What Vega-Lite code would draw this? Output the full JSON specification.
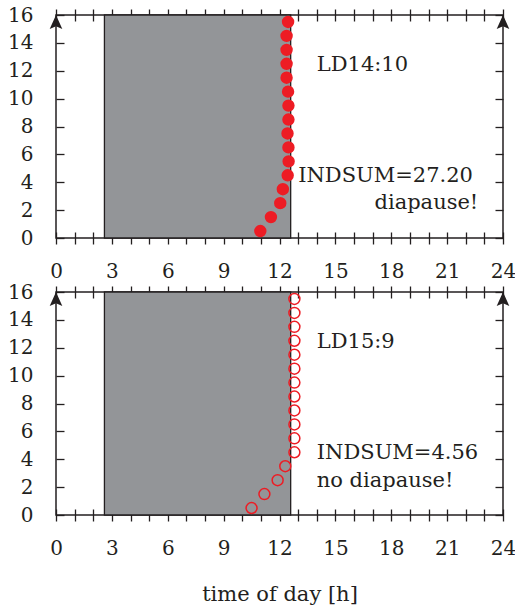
{
  "$schema": "https://vega.github.io/schema/vega-lite/v6.json",
  "padding": {"left": 6, "top": 4, "right": 0, "bottom": 5},
  "spacing": -1,
  "config": {
    "view": {"stroke": "#231f20", "strokeWidth": 1.5},
    "font": "DejaVu Serif",
    "text": {"font": "DejaVu Serif"},
    "axis": {"labelFont": "DejaVu Serif", "labelFontSize": 20, "labelColor": "#231f20", "tickColor": "#231f20", "tickWidth": 1.3, "titleFont": "DejaVu Serif", "titleFontSize": 21, "titleFontWeight": "normal", "titleColor": "#231f20", "grid": false, "domain": false, "labelFlush": false, "labelOverlap": false}
  },
  "datasets": {
    "shade": [
      {"panel": "A", "start": 2.6, "end": 12.6, "lo": 0, "hi": 16},
      {"panel": "B", "start": 2.6, "end": 12.6, "lo": 0, "hi": 16}
    ],
    "pts": [
      {"panel": "A", "t": 10.97, "n": 0.5}, {"panel": "A", "t": 11.54, "n": 1.5}, {"panel": "A", "t": 12.04, "n": 2.5}, {"panel": "A", "t": 12.18, "n": 3.5},
      {"panel": "A", "t": 12.44, "n": 4.5}, {"panel": "A", "t": 12.49, "n": 5.5}, {"panel": "A", "t": 12.48, "n": 6.5}, {"panel": "A", "t": 12.43, "n": 7.5},
      {"panel": "A", "t": 12.48, "n": 8.5}, {"panel": "A", "t": 12.48, "n": 9.5}, {"panel": "A", "t": 12.46, "n": 10.5}, {"panel": "A", "t": 12.38, "n": 11.5},
      {"panel": "A", "t": 12.38, "n": 12.5}, {"panel": "A", "t": 12.38, "n": 13.5}, {"panel": "A", "t": 12.38, "n": 14.5}, {"panel": "A", "t": 12.46, "n": 15.5},
      {"panel": "B", "t": 10.5, "n": 0.5}, {"panel": "B", "t": 11.19, "n": 1.5}, {"panel": "B", "t": 11.9, "n": 2.5}, {"panel": "B", "t": 12.31, "n": 3.5},
      {"panel": "B", "t": 12.8, "n": 4.5}, {"panel": "B", "t": 12.8, "n": 5.5}, {"panel": "B", "t": 12.8, "n": 6.5}, {"panel": "B", "t": 12.8, "n": 7.5},
      {"panel": "B", "t": 12.8, "n": 8.5}, {"panel": "B", "t": 12.8, "n": 9.5}, {"panel": "B", "t": 12.8, "n": 10.5}, {"panel": "B", "t": 12.8, "n": 11.5},
      {"panel": "B", "t": 12.8, "n": 12.5}, {"panel": "B", "t": 12.8, "n": 13.5}, {"panel": "B", "t": 12.8, "n": 14.5}, {"panel": "B", "t": 12.8, "n": 15.5}
    ],
    "arrows": [{"x": 0, "y": 16}, {"x": 24, "y": 16}],
    "notes": [
      {"panel": "A", "x": 14, "y": 12, "text": "LD14:10"},
      {"panel": "A", "x": 13, "y": 4, "text": "INDSUM=27.20"},
      {"panel": "A", "x": 17.1, "y": 2.1, "text": "diapause!"},
      {"panel": "B", "x": 14, "y": 12, "text": "LD15:9"},
      {"panel": "B", "x": 14, "y": 4, "text": "INDSUM=4.56"},
      {"panel": "B", "x": 14, "y": 2, "text": "no diapause!"}
    ]
  },
  "vconcat": [
    {
      "width": 447, "height": 223,
      "resolve": {"axis": {"x": "independent", "y": "independent"}},
      "layer": [
        {
          "data": {"name": "shade"},
          "transform": [{"filter": "datum.panel == 'A'"}],
          "mark": {"type": "rect", "fill": "#939598", "stroke": "#231f20", "strokeWidth": 1.3},
          "encoding": {
            "x": {"field": "start", "type": "quantitative", "scale": {"domain": [0, 24], "nice": false, "zero": false},
                  "axis": {"orient": "bottom", "values": [0,1,2,3,4,5,6,7,8,9,10,11,12,13,14,15,16,17,18,19,20,21,22,23,24], "labelExpr": "datum.value % 3 == 0 ? datum.label : ''", "offset": -6, "tickSize": 12, "labelPadding": 17, "title": null}},
            "x2": {"field": "end"},
            "y": {"field": "lo", "type": "quantitative", "scale": {"domain": [0, 16], "nice": false},
                  "axis": {"orient": "left", "values": [0,2,4,6,8,10,12,14,16], "offset": -8, "tickSize": 8, "labelPadding": 23, "title": null}},
            "y2": {"field": "hi"}
          }
        },
        {
          "data": {"name": "pts"},
          "transform": [{"filter": "datum.panel == 'A'"}],
          "mark": {"type": "point", "shape": "circle", "filled": true, "color": "#ed1c24", "opacity": 1, "size": 154},
          "encoding": {
            "x": {"field": "t", "type": "quantitative", "axis": null},
            "y": {"field": "n", "type": "quantitative", "axis": null}
          }
        },
        {
          "data": {"name": "notes"},
          "transform": [{"filter": "datum.panel == 'A'"}],
          "mark": {"type": "text", "align": "left", "baseline": "alphabetic", "fontSize": 21, "font": "DejaVu Serif", "color": "#231f20"},
          "encoding": {
            "x": {"field": "x", "type": "quantitative", "axis": null},
            "y": {"field": "y", "type": "quantitative", "axis": null},
            "text": {"field": "text"}
          }
        },
        {
          "data": {"name": "arrows"},
          "mark": {"type": "point", "shape": "M0,0L0.9,2L0,1.6L-0.9,2Z", "filled": true, "color": "#231f20", "opacity": 1, "size": 196},
          "encoding": {
            "x": {"field": "x", "type": "quantitative",
                  "axis": {"orient": "top", "values": [0,1,2,3,4,5,6,7,8,9,10,11,12,13,14,15,16,17,18,19,20,21,22,23,24], "labels": false, "offset": -6, "tickSize": 12, "title": null}},
            "y": {"field": "y", "type": "quantitative",
                  "axis": {"orient": "right", "values": [0,2,4,6,8,10,12,14,16], "labels": false, "offset": -8, "tickSize": 8, "title": null}}
          }
        }
      ]
    },
    {
      "width": 447, "height": 223,
      "resolve": {"axis": {"x": "independent", "y": "independent"}},
      "layer": [
        {
          "data": {"name": "shade"},
          "transform": [{"filter": "datum.panel == 'B'"}],
          "mark": {"type": "rect", "fill": "#939598", "stroke": "#231f20", "strokeWidth": 1.3},
          "encoding": {
            "x": {"field": "start", "type": "quantitative", "scale": {"domain": [0, 24], "nice": false, "zero": false},
                  "axis": {"orient": "bottom", "values": [0,1,2,3,4,5,6,7,8,9,10,11,12,13,14,15,16,17,18,19,20,21,22,23,24], "labelExpr": "datum.value % 3 == 0 ? datum.label : ''", "offset": -6, "tickSize": 12, "labelPadding": 17, "title": "time of day [h]", "titlePadding": 25}},
            "x2": {"field": "end"},
            "y": {"field": "lo", "type": "quantitative", "scale": {"domain": [0, 16], "nice": false},
                  "axis": {"orient": "left", "values": [0,2,4,6,8,10,12,14,16], "offset": -8, "tickSize": 8, "labelPadding": 23, "title": null}},
            "y2": {"field": "hi"}
          }
        },
        {
          "data": {"name": "pts"},
          "transform": [{"filter": "datum.panel == 'B'"}],
          "mark": {"type": "point", "shape": "circle", "filled": false, "color": "#ed1c24", "opacity": 1, "strokeWidth": 1.5, "size": 120},
          "encoding": {
            "x": {"field": "t", "type": "quantitative", "axis": null},
            "y": {"field": "n", "type": "quantitative", "axis": null}
          }
        },
        {
          "data": {"name": "notes"},
          "transform": [{"filter": "datum.panel == 'B'"}],
          "mark": {"type": "text", "align": "left", "baseline": "alphabetic", "fontSize": 21, "font": "DejaVu Serif", "color": "#231f20"},
          "encoding": {
            "x": {"field": "x", "type": "quantitative", "axis": null},
            "y": {"field": "y", "type": "quantitative", "axis": null},
            "text": {"field": "text"}
          }
        },
        {
          "data": {"name": "arrows"},
          "mark": {"type": "point", "shape": "M0,0L0.9,2L0,1.6L-0.9,2Z", "filled": true, "color": "#231f20", "opacity": 1, "size": 196},
          "encoding": {
            "x": {"field": "x", "type": "quantitative",
                  "axis": {"orient": "top", "values": [0,1,2,3,4,5,6,7,8,9,10,11,12,13,14,15,16,17,18,19,20,21,22,23,24], "labels": false, "offset": -6, "tickSize": 12, "title": null}},
            "y": {"field": "y", "type": "quantitative",
                  "axis": {"orient": "right", "values": [0,2,4,6,8,10,12,14,16], "labels": false, "offset": -8, "tickSize": 8, "title": null}}
          }
        }
      ]
    }
  ]
}
